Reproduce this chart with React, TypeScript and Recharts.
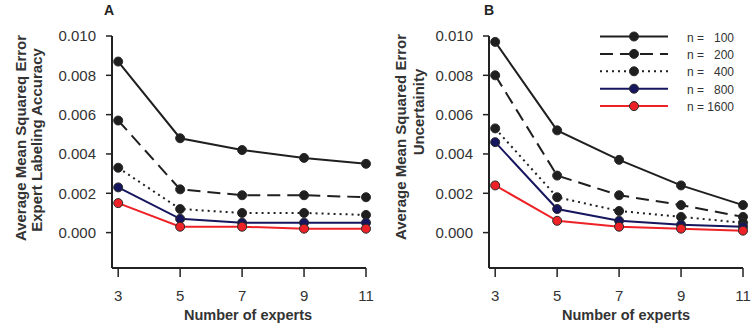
import React from 'react';
import { LineChart, Line, XAxis, YAxis, Customized } from 'recharts';

const experts = [3, 5, 7, 9, 11];
const xTicks = [3, 5, 7, 9, 11];
const yTicks = [0, 0.002, 0.004, 0.006, 0.008, 0.01];

const seriesNames = ['n100', 'n200', 'n400', 'n800', 'n1600'];
const legendPrefix = ['n =', 'n =', 'n =', 'n =', 'n ='];
const legendNumbers = ['100', '200', '400', '800', '1600'];

// Panel A: expert labeling accuracy
const accN100 = [0.0087, 0.0048, 0.0042, 0.0038, 0.0035];
const accN200 = [0.0057, 0.0022, 0.0019, 0.0019, 0.0018];
const accN400 = [0.0033, 0.0012, 0.001, 0.001, 0.0009];
const accN800 = [0.0023, 0.0007, 0.0005, 0.0005, 0.0005];
const accN1600 = [0.0015, 0.0003, 0.0003, 0.0002, 0.0002];

// Panel B: uncertainty
const uncN100 = [0.0097, 0.0052, 0.0037, 0.0024, 0.0014];
const uncN200 = [0.008, 0.0029, 0.0019, 0.0014, 0.0008];
const uncN400 = [0.0053, 0.0018, 0.0011, 0.0008, 0.0005];
const uncN800 = [0.0046, 0.0012, 0.0006, 0.0004, 0.0003];
const uncN1600 = [0.0024, 0.0006, 0.0003, 0.0002, 0.0001];

const styles = [
  { color: '#1f1f1f', dash: undefined as string | undefined, dot: '#1f1f1f' },
  { color: '#1f1f1f', dash: '13 7', dot: '#1f1f1f' },
  { color: '#1f1f1f', dash: '2 4', dot: '#1f1f1f' },
  { color: '#16165e', dash: undefined, dot: '#16165e' },
  { color: '#ee2226', dash: undefined, dot: '#ee2226' },
];

const build = (arrs: number[][]) =>
  experts.map((x, i) => {
    const row: Record<string, number> = { x };
    seriesNames.forEach((k, j) => {
      row[k] = arrs[j][i];
    });
    return row;
  });

const dataA = build([accN100, accN200, accN400, accN800, accN1600]);
const dataB = build([uncN100, uncN200, uncN400, uncN800, uncN1600]);

const FONT = '"Liberation Sans", Arial, Helvetica, sans-serif';
const TICK = { fill: '#333', fontSize: 15, fontFamily: FONT };
const AXIS_LINE = { stroke: '#222', strokeWidth: 2 };

type PanelProps = {
  data: Record<string, number>[];
  width: number;
  yAxisWidth: number;
  title: string;
  titleX: number;
  labelLines: { text: string; x: number; y: number }[];
  xLabelX: number;
  legend?: boolean;
};

const Panel = ({ data, width, yAxisWidth, title, titleX, labelLines, xLabelX, legend }: PanelProps) => (
  <LineChart
    width={width}
    height={329}
    data={data}
    margin={{ top: 36, right: 12, bottom: 0, left: 0 }}
  >
    <XAxis
      type="number"
      dataKey="x"
      domain={[2.8, 11]}
      ticks={xTicks}
      height={61}
      tick={TICK}
      tickSize={9}
      tickMargin={13}
      axisLine={AXIS_LINE}
      tickLine={{ stroke: '#222', strokeWidth: 1.5 }}
    />
    <YAxis
      type="number"
      domain={[-0.0018, 0.01]}
      ticks={yTicks}
      width={yAxisWidth}
      tick={TICK}
      tickSize={6}
      tickMargin={10}
      tickFormatter={(v: number) => v.toFixed(3)}
      axisLine={AXIS_LINE}
      tickLine={{ stroke: '#222', strokeWidth: 1.5 }}
    />
    {seriesNames.map((k, i) => (
      <Line
        key={k}
        dataKey={k}
        type="linear"
        stroke={styles[i].color}
        strokeWidth={2}
        strokeDasharray={styles[i].dash}
        dot={{ r: 4.5, fill: styles[i].dot, stroke: '#2a2a2a', strokeWidth: 1, strokeDasharray: '' }}
        isAnimationActive={false}
      />
    ))}
    <Customized
      component={() => (
        <g fontFamily={FONT}>
          <text x={titleX} y={15} textAnchor="middle" fontSize={14} fontWeight="bold" fill="#222">
            {title}
          </text>
          {labelLines.map((l, i) => (
            <text
              key={i}
              x={l.x}
              y={l.y}
              transform={`rotate(-90 ${l.x} ${l.y})`}
              textAnchor="middle"
              dominantBaseline="central"
              fontSize={15}
              fontWeight="bold"
              fill="#333"
            >
              {l.text}
            </text>
          ))}
          <text x={xLabelX} y={320} textAnchor="middle" fontSize={14.5} fontWeight="bold" fill="#333">
            Number of experts
          </text>
          {legend &&
            seriesNames.map((k, i) => {
              const y = 36.5 + i * 17.4;
              return (
                <g key={k}>
                  <line
                    x1={222}
                    x2={290}
                    y1={y}
                    y2={y}
                    stroke={styles[i].color}
                    strokeWidth={2}
                    strokeDasharray={styles[i].dash}
                  />
                  <circle cx={256} cy={y} r={4.5} fill={styles[i].dot} stroke="#2a2a2a" strokeWidth={1} />
                  <text x={309} y={y + 1} dominantBaseline="central" fontSize={12} fill="#333">
                    {legendPrefix[i]}
                  </text>
                  <text x={356} y={y + 1} dominantBaseline="central" textAnchor="end" fontSize={12} fill="#333">
                    {legendNumbers[i]}
                  </text>
                </g>
              );
            })}
        </g>
      )}
    />
  </LineChart>
);

export default function App() {
  return (
    <div style={{ position: 'absolute', left: 0, top: 0, width: 755, height: 329, background: '#fff' }}>
      <div style={{ position: 'absolute', left: 0, top: 0 }}>
        <Panel
          data={dataA}
          width={378}
          yAxisWidth={112}
          title="A"
          titleX={109}
          labelLines={[
            { text: 'Average Mean Squareq Error', x: 20, y: 138 },
            { text: 'Expert Labeling Accuracy', x: 36, y: 140 },
          ]}
          xLabelX={248}
        />
      </div>
      <div style={{ position: 'absolute', left: 378, top: 0 }}>
        <Panel
          data={dataB}
          width={377}
          yAxisWidth={111}
          title="B"
          titleX={111}
          labelLines={[
            { text: 'Average Mean Squared Error', x: 22, y: 137 },
            { text: 'Uncertainity', x: 40, y: 112 },
          ]}
          xLabelX={248}
          legend
        />
      </div>
    </div>
  );
}
